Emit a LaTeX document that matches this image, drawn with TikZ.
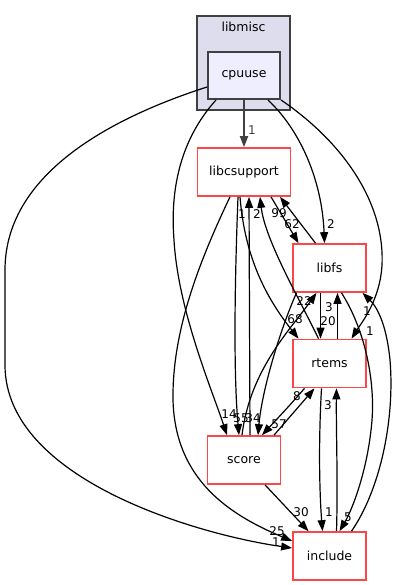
\documentclass[tikz,border=0pt]{standalone}
\usepackage{fontspec}
\setmainfont{DejaVu Sans}
\usetikzlibrary{arrows.meta}
\definecolor{dirred}{RGB}{255,70,70}
\definecolor{clusterfill}{RGB}{221,221,238}
\definecolor{cpufill}{RGB}{238,238,255}
\definecolor{darkline}{RGB}{64,64,64}
\tikzset{
	dirbox/.style={draw=dirred, line width=1.7pt, fill=white, minimum width=73pt, minimum height=48pt, inner xsep=11.5pt, font=\fontsize{12.5}{14}\selectfont},
	dep/.style={line width=1.2pt, -{Triangle[length=11pt,width=8pt]}},
	lbl/.style={inner sep=0pt, font=\fontsize{12}{13}\selectfont}
}
\begin{document}
\begin{tikzpicture}[x=1pt,y=-1pt]
		\useasboundingbox (0,0) rectangle (401,585);
		
		\draw[darkline, line width=1.5pt, fill=clusterfill] (197,16) rectangle (290,110);
		\node [font=\fontsize{12.5}{14}\selectfont] (libmisc) at (243.5,27) {libmisc};
		\node [dirbox, draw=darkline, line width=2pt, fill=cpufill, minimum width=72pt, minimum height=47pt] (cpuuse) at (244,75.5) {cpuuse};
		
		\node [dirbox] (libcsupport) at (244,172) {libcsupport};
		\node [dirbox] (libfs) at (329.5,268) {libfs};
		\node [dirbox] (rtems) at (329.5,363.5) {rtems};
		\node [dirbox] (score) at (244,460) {score};
		\node [dirbox] (include) at (329.5,556) {include};
		
		% from cpuuse
		\draw[dep, darkline, line width=1.8pt] (cpuuse.south) -- (libcsupport.north) node [lbl] at (252,130) {1};
		\draw[dep] ([xshift=24]cpuuse.south) .. controls (300,130) and (322,180) .. ([xshift=-5]libfs.north) node [lbl] at (331,224) {2};
		\draw[dep] (cpuuse.south east) .. controls (340,140) and (385,200) .. (382,265) .. controls (380,300) and (362,322) .. ([xshift=22]rtems.north) node [lbl] at (370,331) {1};
		\draw[dep] ([xshift=-28]cpuuse.south) .. controls (180,140) and (170,190) .. (174,240) .. controls (178,310) and (212,390) .. ([xshift=-17]score.north) node [lbl] at (229,414) {14};
		\draw[dep] ([yshift=-11.5]cpuuse.west) .. controls (120,115) and (5,170) .. (5,270) -- (5,365) .. controls (5,480) and (200,535) .. ([yshift=8]include.west) node [lbl] at (276,542) {1};
		
		% from libcsupport
		\draw[dep] ([xshift=-14]libcsupport.south) .. controls (200,260) and (172,330) .. (173,400) .. controls (175,480) and (230,515) .. ([yshift=15]include.west) node [lbl] at (277,531) {25};
		\draw[dep] ([xshift=-6]libcsupport.south) .. controls (234,300) and (234,380) .. ([xshift=-5]score.north) node [lbl] at (241,418) {55};
		\draw[dep] ([xshift=27]libcsupport.south) -- ([xshift=-31]libfs.north) node [lbl] at (292,224) {62};
		\draw[dep] ([xshift=-4]libcsupport.south) .. controls (245,260) and (268,300) .. ([xshift=-31]rtems.north) node [lbl] at (295,319) {68};
		
		% from libfs
		\draw[dep] ([xshift=-14]libfs.north) -- ([xshift=36]libcsupport.south) node [lbl] at (279,213) {99};
		\draw[dep] ([xshift=-9]libfs.south) -- ([xshift=-9]rtems.north) node [lbl] at (328,321) {20};
		\draw[dep] ([xshift=-33]libfs.south) .. controls (280,330) and (262,390) .. ([xshift=14]score.north) node [lbl] at (253,418) {34};
		\draw[dep] ([xshift=12]libfs.south) .. controls (365,330) and (375,380) .. (372,420) .. controls (368,470) and (352,510) .. ([xshift=10]include.north) node [lbl] at (348,517) {5};
		
		% from rtems
		\draw[dep] ([xshift=-11]rtems.north) .. controls (300,300) and (265,240) .. ([xshift=16]libcsupport.south) node [lbl] at (257,214) {2};
		\draw[dep] ([xshift=8]rtems.north) -- ([xshift=8]libfs.south) node [lbl] at (329,307.5) {3};
		\draw[dep] ([xshift=-25]rtems.south) .. controls (290,405) .. ([xshift=18]score.north) node [lbl] at (279,424) {57};
		\draw[dep] ([xshift=-8]rtems.south) .. controls (318,450) and (320,500) .. ([xshift=-7]include.north) node [lbl] at (329,512) {1};
		
		% from score
		\draw[dep] ([xshift=6]score.north) -- ([xshift=5]libcsupport.south) node [lbl] at (242,214) {1};
		\draw[dep] ([xshift=-2]score.north) .. controls (250,370) and (290,330) .. ([xshift=-13]libfs.south) node [lbl] at (304,301) {22};
		\draw[dep] ([xshift=30]score.north) -- ([xshift=-15]rtems.south) node [lbl] at (297,396) {8};
		\draw[dep] ([xshift=21]score.south) -- ([xshift=-21]include.north) node [lbl] at (301,512) {30};
		
		% from include
		\draw[dep] ([xshift=7]include.north) .. controls (338,480) and (336,430) .. ([xshift=7]rtems.south) node [lbl] at (328,405) {3};
		\draw[dep] ([xshift=22]include.north) .. controls (380,490) and (395,420) .. (390,360) .. controls (386,320) and (375,305) .. ([xshift=33]libfs.south) node [lbl] at (367,311) {1};
\end{tikzpicture}
\end{document}
